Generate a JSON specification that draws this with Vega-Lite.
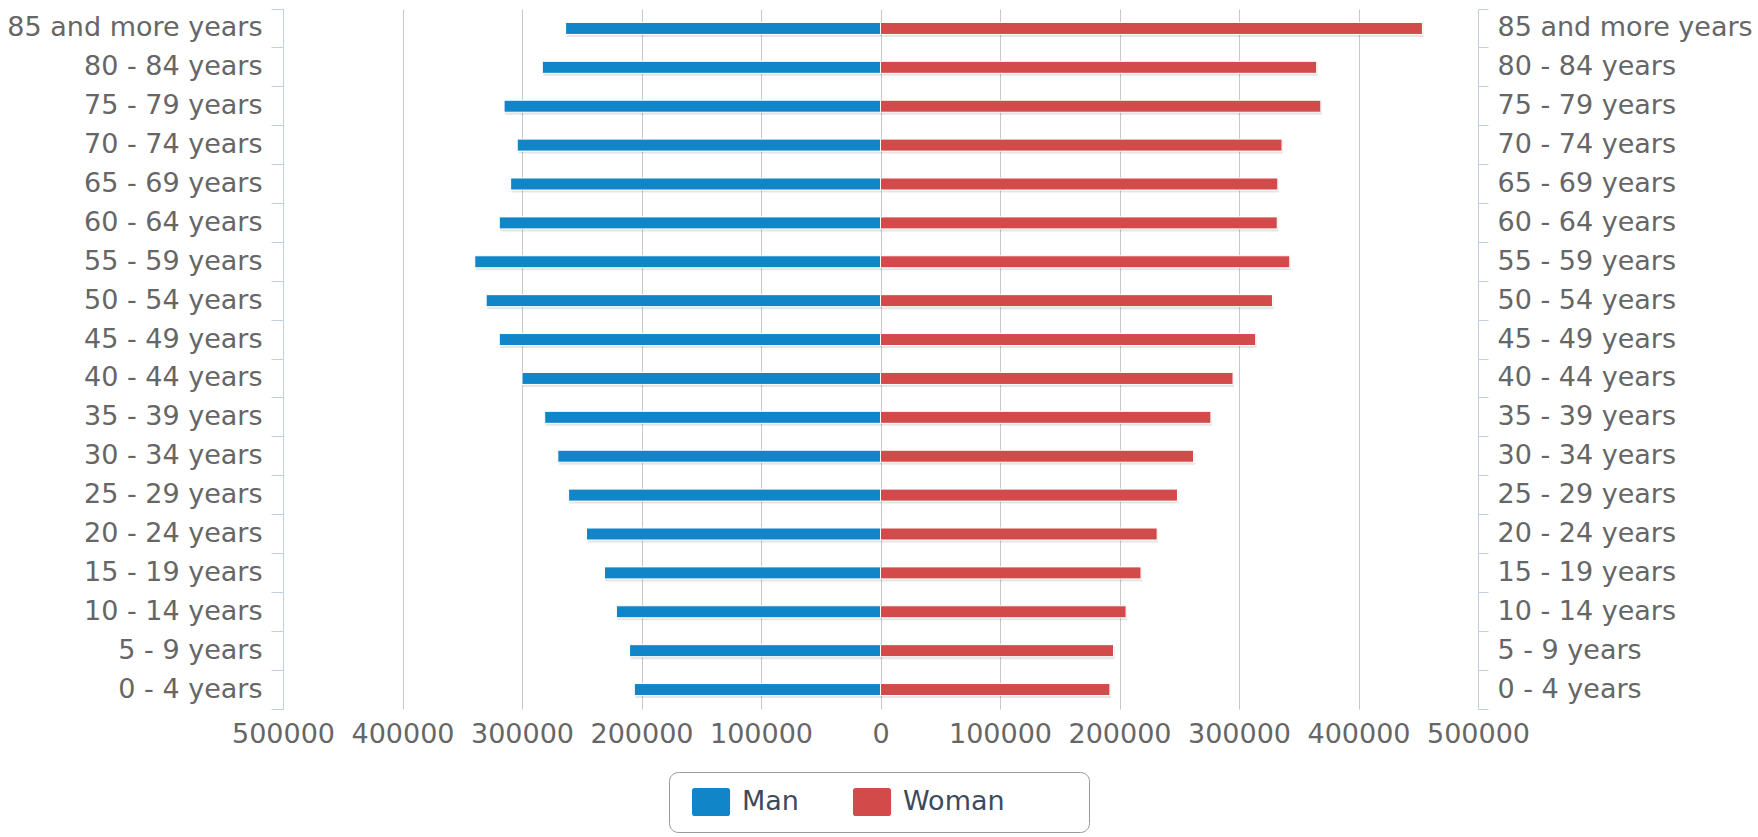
{
  "$schema": "https://vega.github.io/schema/vega-lite/v6.json",
  "autosize": "none",
  "padding": {"left": 283, "top": 9, "right": 280, "bottom": 128},
  "width": 1195,
  "height": 700,
  "background": "white",
  "config": {
    "view": {"stroke": null},
    "font": "DejaVu Sans"
  },
  "data": {
    "values": [
      {"age": "85 and more years", "sex": "Man", "value": -263500},
      {"age": "80 - 84 years", "sex": "Man", "value": -283000},
      {"age": "75 - 79 years", "sex": "Man", "value": -315000},
      {"age": "70 - 74 years", "sex": "Man", "value": -304000},
      {"age": "65 - 69 years", "sex": "Man", "value": -309500},
      {"age": "60 - 64 years", "sex": "Man", "value": -319000},
      {"age": "55 - 59 years", "sex": "Man", "value": -339500},
      {"age": "50 - 54 years", "sex": "Man", "value": -330000},
      {"age": "45 - 49 years", "sex": "Man", "value": -319000},
      {"age": "40 - 44 years", "sex": "Man", "value": -300000},
      {"age": "35 - 39 years", "sex": "Man", "value": -281000},
      {"age": "30 - 34 years", "sex": "Man", "value": -270000},
      {"age": "25 - 29 years", "sex": "Man", "value": -261000},
      {"age": "20 - 24 years", "sex": "Man", "value": -246000},
      {"age": "15 - 19 years", "sex": "Man", "value": -231000},
      {"age": "10 - 14 years", "sex": "Man", "value": -221000},
      {"age": "5 - 9 years", "sex": "Man", "value": -210000},
      {"age": "0 - 4 years", "sex": "Man", "value": -206000},
      {"age": "85 and more years", "sex": "Woman", "value": 453500},
      {"age": "80 - 84 years", "sex": "Woman", "value": 365000},
      {"age": "75 - 79 years", "sex": "Woman", "value": 368500},
      {"age": "70 - 74 years", "sex": "Woman", "value": 336000},
      {"age": "65 - 69 years", "sex": "Woman", "value": 332500},
      {"age": "60 - 64 years", "sex": "Woman", "value": 332000},
      {"age": "55 - 59 years", "sex": "Woman", "value": 342500},
      {"age": "50 - 54 years", "sex": "Woman", "value": 328000},
      {"age": "45 - 49 years", "sex": "Woman", "value": 314000},
      {"age": "40 - 44 years", "sex": "Woman", "value": 295000},
      {"age": "35 - 39 years", "sex": "Woman", "value": 276500},
      {"age": "30 - 34 years", "sex": "Woman", "value": 262000},
      {"age": "25 - 29 years", "sex": "Woman", "value": 248500},
      {"age": "20 - 24 years", "sex": "Woman", "value": 231500},
      {"age": "15 - 19 years", "sex": "Woman", "value": 218000},
      {"age": "10 - 14 years", "sex": "Woman", "value": 205500},
      {"age": "5 - 9 years", "sex": "Woman", "value": 195000},
      {"age": "0 - 4 years", "sex": "Woman", "value": 192000}
    ]
  },
  "resolve": {"scale": {"y": "shared", "x": "shared"}, "axis": {"y": "independent"}},
  "layer": [
    {
      "mark": {"type": "bar", "size": 13, "color": "#000000", "opacity": 0.1, "yOffset": 2, "xOffset": 1},
      "encoding": {
        "y": {
          "field": "age", "type": "nominal",
          "sort": ["85 and more years","80 - 84 years","75 - 79 years","70 - 74 years","65 - 69 years","60 - 64 years","55 - 59 years","50 - 54 years","45 - 49 years","40 - 44 years","35 - 39 years","30 - 34 years","25 - 29 years","20 - 24 years","15 - 19 years","10 - 14 years","5 - 9 years","0 - 4 years"],
          "scale": {"paddingInner": 0, "paddingOuter": 0},
          "axis": {
            "orient": "right", "title": null, "grid": false,
            "bandPosition": 1, "tickExtra": true, "labelOffset": 0,
            "domain": true, "domainColor": "#c0d0e0", "domainWidth": 1,
            "ticks": true, "tickColor": "#c0d0e0", "tickSize": 10, "tickWidth": 1,
            "labelFont": "DejaVu Sans", "labelFontSize": 27, "labelColor": "#666666",
            "labelPadding": 9, "labelAlign": "left", "labelLimit": 400
          }
        },
        "x": {
          "field": "value", "type": "quantitative",
          "scale": {"domain": [-500000, 500000], "nice": false},
          "axis": {
            "title": null, "values": [-500000,-400000,-300000,-200000,-100000,0,100000,200000,300000,400000,500000],
            "labelExpr": "format(abs(datum.value), 'd')",
            "grid": true, "gridColor": "#c8c8c8", "gridWidth": 1,
            "domain": false, "ticks": false,
            "labelFont": "DejaVu Sans", "labelFontSize": 27, "labelColor": "#666666",
            "labelPadding": 12, "labelFlush": false, "labelOverlap": false
          }
        }
      }
    },
    {
      "mark": {"type": "bar", "size": 12, "stroke": "white", "strokeWidth": 1},
      "encoding": {
        "y": {
          "field": "age", "type": "nominal",
          "sort": ["85 and more years","80 - 84 years","75 - 79 years","70 - 74 years","65 - 69 years","60 - 64 years","55 - 59 years","50 - 54 years","45 - 49 years","40 - 44 years","35 - 39 years","30 - 34 years","25 - 29 years","20 - 24 years","15 - 19 years","10 - 14 years","5 - 9 years","0 - 4 years"],
          "axis": {
            "orient": "left", "title": null, "grid": false,
            "bandPosition": 1, "tickExtra": true, "labelOffset": 0,
            "domain": true, "domainColor": "#c0d0e0", "domainWidth": 1,
            "ticks": true, "tickColor": "#c0d0e0", "tickSize": 12, "tickWidth": 1,
            "labelFont": "DejaVu Sans", "labelFontSize": 27, "labelColor": "#666666",
            "labelPadding": 9, "labelAlign": "right", "labelLimit": 400
          }
        },
        "x": {"field": "value", "type": "quantitative"},
        "color": {
          "field": "sex", "type": "nominal",
          "scale": {"domain": ["Man", "Woman"], "range": ["#1086c8", "#d24a4a"]},
          "legend": {
            "title": null, "orient": "none", "legendX": 386, "legendY": 763,
            "direction": "horizontal",
            "symbolType": "M-0.5,-1 L2.02,-1 Q2.22,-1 2.22,-0.8 L2.22,0.8 Q2.22,1 2.02,1 L-0.3,1 Q-0.5,1 -0.5,0.8 L-0.5,-0.8 Q-0.5,-1 -0.3,-1 Z",
            "symbolSize": 784, "symbolStrokeWidth": 0, "symbolOpacity": 1,
            "labelFont": "DejaVu Sans", "labelFontSize": 27, "labelColor": "#3d4a5c",
            "labelOffset": 29, "columnPadding": 47, "labelLimit": 400,
            "labelExpr": "datum.label == 'Woman' ? 'Woman\u00a0\u2800\u2800\u2800' : datum.label",
            "padding": 16, "strokeColor": "#999999", "cornerRadius": 9, "fillColor": "#ffffff"
          }
        }
      }
    }
  ]
}
